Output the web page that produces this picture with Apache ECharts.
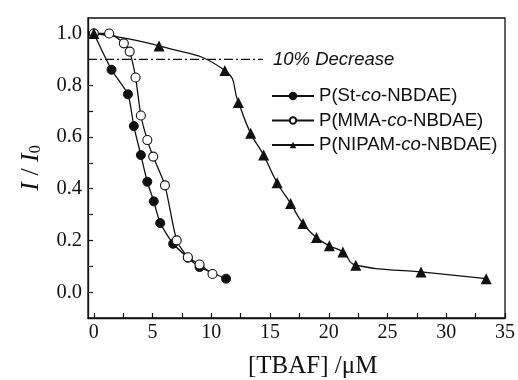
<!DOCTYPE html>
<html>
<head>
<meta charset="utf-8">
<script src="https://cdn.jsdelivr.net/npm/echarts@6/dist/echarts.min.js"></script>
<style>html,body{margin:0;padding:0;background:#fff}#c{width:518px;height:380px}</style>
</head>
<body>
<div id="c"></div>
<script>
// ---- data ----
const stX = [0, 1.5, 2.9, 3.4, 4.0, 4.55, 5.1, 5.65, 6.75, 8.0, 9.0, 11.25];
const stY = [1.0, 0.86, 0.765, 0.642, 0.53, 0.427, 0.351, 0.267, 0.187, 0.133, 0.097, 0.052];
const mmaX = [0, 1.3, 2.55, 3.05, 3.55, 4.0, 4.55, 5.05, 6.05, 7.05, 8.0, 9.0, 10.1];
const mmaY = [1.0, 1.0, 0.962, 0.93, 0.83, 0.683, 0.588, 0.524, 0.413, 0.2, 0.135, 0.107, 0.07];
const nipX = [0, 5.55, 11.15, 12.3, 13.35, 14.45, 15.6, 16.75, 17.8, 18.95, 20.05, 21.2, 22.3, 27.85, 33.4];
const nipY = [1.0, 0.952, 0.857, 0.733, 0.614, 0.53, 0.423, 0.343, 0.265, 0.211, 0.179, 0.155, 0.104, 0.078, 0.052];
const seriesNames = ['P(St-co-NBDAE)', 'P(MMA-co-NBDAE)', 'P(NIPAM-co-NBDAE)'];
const decreaseX = [-0.5, 14.4];
const decreaseY = [0.9, 0.9];
const decreaseText = '10% Decrease';
const xTickLabels = [0, 5, 10, 15, 20, 25, 30, 35];
const xMinorTicks = [0, 2.5, 5, 7.5, 10, 12.5, 15, 17.5, 20, 22.5, 25, 27.5, 30, 32.5, 35];
const yTickLabels = [0.0, 0.2, 0.4, 0.6, 0.8, 1.0];
const yMinorTicks = [0.0, 0.1, 0.2, 0.3, 0.4, 0.5, 0.6, 0.7, 0.8, 0.9, 1.0];
const xAxisTitle = '[TBAF] /\u03bcM';

const zip = (xs, ys) => xs.map((x, i) => [x, ys[i]]);
const ink = '#111';
const serif = '"Liberation Serif", "Times New Roman", serif';
const sans = '"Liberation Sans", Arial, sans-serif';

const chart = echarts.init(document.getElementById('c'), null, {renderer: 'canvas'});
const lineBase = {
  type: 'line',
  lineStyle: {color: ink, width: 1.3},
  emphasis: {disabled: true},
  animation: false,
  z: 3
};
chart.setOption({
  backgroundColor: '#fff',
  animation: false,
  grid: {left: 88, right: 13, top: 18, bottom: 62, show: true, borderColor: ink, borderWidth: 1.3, backgroundColor: 'transparent'},
  legend: {
    left: 266, top: 81.5, orient: 'vertical',
    itemWidth: 42, itemHeight: 8, itemGap: 5.5,
    data: seriesNames,
    textStyle: {fontFamily: sans, fontSize: 18.6, color: ink, lineHeight: 18,
      rich: {i: {fontFamily: sans, fontSize: 18.6, fontStyle: 'italic', color: ink, lineHeight: 18}}},
    formatter: n => n.replace('-co-', '-{i|co}-')
  },
  xAxis: {
    type: 'value', min: -0.5, max: 35,
    axisLine: {show: true, onZero: false, lineStyle: {color: ink, width: 1.3}},
    axisTick: {show: true, inside: true, length: 5, customValues: xMinorTicks, lineStyle: {color: ink, width: 1.2}},
    axisLabel: {customValues: xTickLabels, fontFamily: serif, fontSize: 20, color: ink, margin: 5},
    splitLine: {show: false}
  },
  yAxis: {
    type: 'value', min: -0.1, max: 1.06,
    name: '{i|I} / {i|I}{s|0}',
    nameLocation: 'middle', nameGap: 44,
    nameTextStyle: {fontFamily: serif, fontSize: 26, color: ink,
      rich: {i: {fontFamily: serif, fontSize: 26, fontStyle: 'italic', color: ink},
             s: {fontFamily: serif, fontSize: 16, color: ink, verticalAlign: 'bottom', padding: [10, 0, 0, 0]}}},
    axisLine: {show: true, onZero: false, lineStyle: {color: ink, width: 1.3}},
    axisTick: {show: true, inside: true, length: 5, customValues: yMinorTicks, lineStyle: {color: ink, width: 1.2}},
    axisLabel: {customValues: yTickLabels, formatter: v => v.toFixed(1), fontFamily: serif, fontSize: 20.5, color: ink, margin: 6},
    splitLine: {show: false}
  },
  graphic: [{
    type: 'text', left: 248, top: 354,
    style: {text: xAxisTitle, font: '25px ' + serif, fill: ink}
  }],
  series: [
    Object.assign({}, lineBase, {
      name: 'decrease', data: zip(decreaseX, decreaseY), symbol: 'none', showSymbol: false,
      lineStyle: {color: ink, width: 1.3, type: [9, 3, 2, 3]}, smooth: false, z: 2,
      endLabel: {show: true, formatter: decreaseText, distance: 10, fontFamily: sans, fontSize: 18.5, fontStyle: 'italic', color: ink}
    }),
    Object.assign({}, lineBase, {
      name: seriesNames[0], data: zip(stX, stY), symbol: 'circle', symbolSize: 9, smooth: 0.2,
      itemStyle: {color: ink, borderColor: ink, borderWidth: 1}
    }),
    Object.assign({}, lineBase, {
      name: seriesNames[1], data: zip(mmaX, mmaY), symbol: 'circle', symbolSize: 9, smooth: 0.2,
      itemStyle: {color: '#fff', borderColor: ink, borderWidth: 1.1}
    }),
    Object.assign({}, lineBase, {
      name: seriesNames[2], data: zip(nipX, nipY), symbol: 'triangle', symbolSize: 11, smooth: 0.5,
      itemStyle: {color: ink, borderColor: ink, borderWidth: 0}
    })
  ]
});
</script>
</body>
</html>
